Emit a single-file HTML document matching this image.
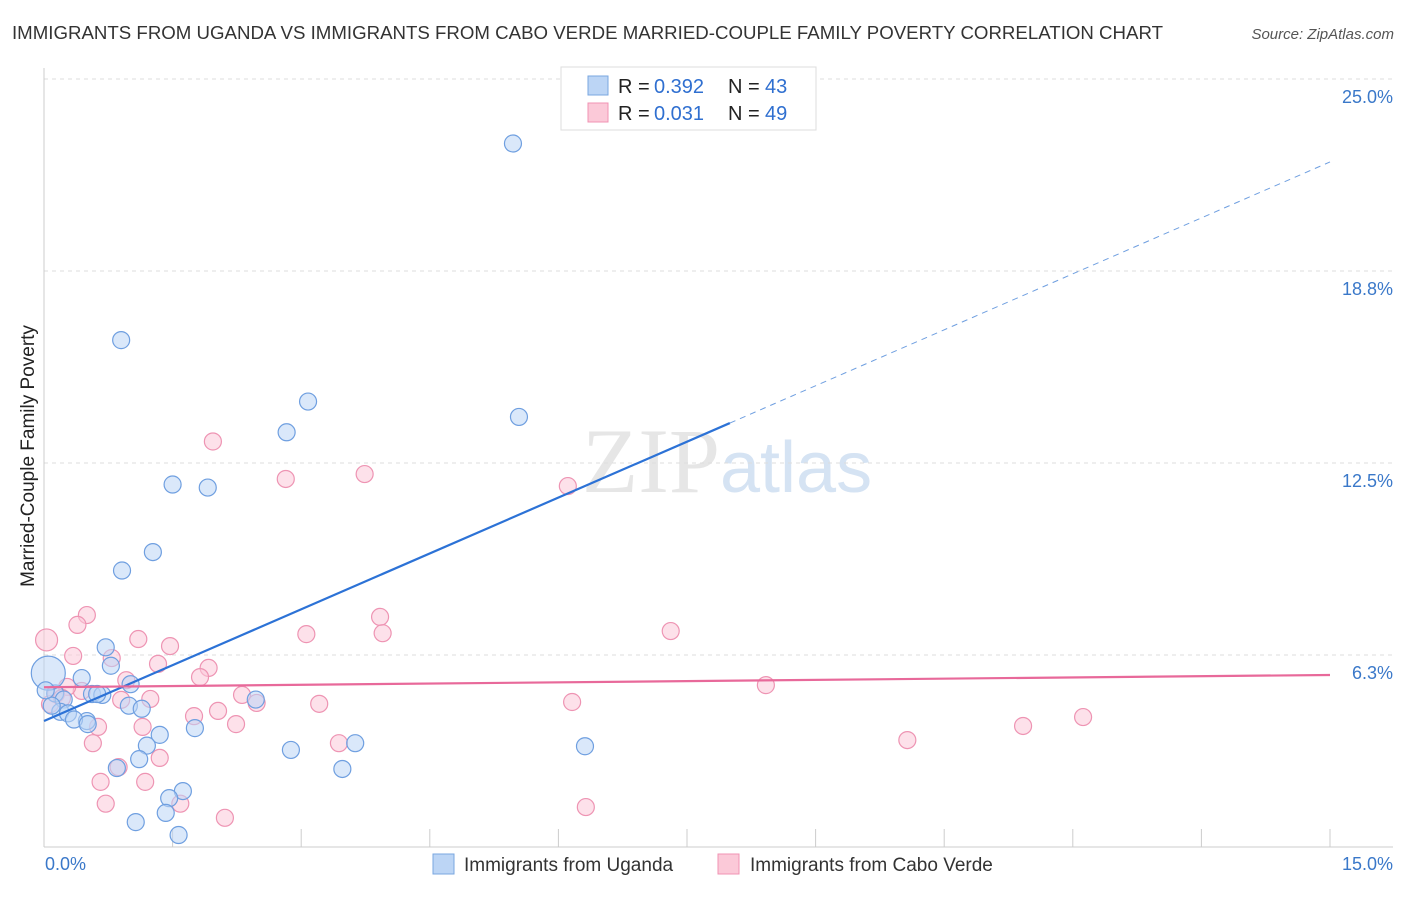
<!DOCTYPE html>
<html><head><meta charset="utf-8"><style>
body{margin:0;background:#fff;font-family:"Liberation Sans",sans-serif}
</style></head><body>
<svg width="1406" height="892" xmlns="http://www.w3.org/2000/svg">
<text x="12" y="39" font-size="18" fill="#333" textLength="1151" lengthAdjust="spacingAndGlyphs">IMMIGRANTS FROM UGANDA VS IMMIGRANTS FROM CABO VERDE MARRIED-COUPLE FAMILY POVERTY CORRELATION CHART</text>
<text x="1394" y="39" font-size="15" fill="#555" font-style="italic" text-anchor="end">Source: ZipAtlas.com</text>
<text x="720" y="492" font-size="92" fill="#e6e6e6" font-family="Liberation Serif" text-anchor="end">ZIP</text>
<text x="720" y="492" font-size="72" fill="#d5e3f3">atlas</text>
<g id="grid"></g><g id="axes"></g><g id="marks"></g>
<text x="34" y="456" font-size="19" fill="#222" transform="rotate(-90 34 456)" text-anchor="middle">Married-Couple Family Poverty</text>
<text x="45" y="870" font-size="18" fill="#3a78c9">0.0%</text>
<text x="1393" y="870" font-size="18" fill="#3a78c9" text-anchor="end">15.0%</text>
<g>
<rect x="561" y="67" width="255" height="63" fill="#fff" stroke="#ddd"/>
<rect x="588" y="76" width="20" height="19" fill="#bcd5f5" stroke="#7aa7e0"/>
<rect x="588" y="103" width="20" height="19" fill="#fbc9d8" stroke="#f093b3"/>
<text x="618" y="93" font-size="20" fill="#222">R =</text>
<text x="654" y="93" font-size="20" fill="#2f6fd0">0.392</text>
<text x="728" y="93" font-size="20" fill="#222">N =</text>
<text x="765" y="93" font-size="20" fill="#2f6fd0">43</text>
<text x="618" y="120" font-size="20" fill="#222">R =</text>
<text x="654" y="120" font-size="20" fill="#2f6fd0">0.031</text>
<text x="728" y="120" font-size="20" fill="#222">N =</text>
<text x="765" y="120" font-size="20" fill="#2f6fd0">49</text>
</g>
<g>
<rect x="433" y="854" width="21" height="20" fill="#bcd5f5" stroke="#7aa7e0"/>
<text x="464" y="871" font-size="19" fill="#333">Immigrants from Uganda</text>
<rect x="718" y="854" width="21" height="20" fill="#fbc9d8" stroke="#f093b3"/>
<text x="750" y="871" font-size="19" fill="#333">Immigrants from Cabo Verde</text>
</g>
</svg>
<script>
const yTicks=[6.25,12.5,18.75,25];
const yTickLabels=["6.3%","12.5%","18.8%","25.0%"];
const xTicks=[0,1.5,3,4.5,6,7.5,9,10.5,12,13.5,15];
const ugX=[5.47,0.90,3.08,2.83,5.54,1.50,1.91,1.27,0.91,0.72,0.78,0.44,1.01,0.13,0.23,0.56,0.68,0.62,0.99,1.14,0.19,0.28,0.50,0.35,1.76,1.35,1.20,2.88,3.63,6.31,1.11,0.85,3.48,1.62,1.46,1.42,1.07,1.57,2.47,0.05,0.09,0.51,0.02];
const ugY=[22.9,16.5,14.5,13.5,14.0,11.8,11.7,9.6,9.0,6.5,5.9,5.5,5.3,5.0,4.8,4.98,4.95,4.98,4.6,4.5,4.4,4.35,4.1,4.15,3.87,3.65,3.3,3.16,3.38,3.28,2.86,2.57,2.54,1.82,1.59,1.11,0.81,0.39,4.8,5.66,4.6,4.0,5.1];
const cvX=[0.03,0.50,0.39,1.97,2.82,3.74,6.11,3.92,3.95,3.06,7.31,1.10,1.47,0.34,0.79,1.33,1.92,1.82,0.96,0.44,0.27,0.14,2.31,1.24,2.48,3.21,6.16,8.42,2.03,0.90,1.75,2.24,1.15,0.63,12.12,11.42,10.07,0.57,3.44,1.35,0.87,0.66,1.18,0.72,1.59,6.32,2.11,0.07,0.21];
const cvY=[6.74,7.55,7.23,13.2,11.98,12.14,11.75,7.49,6.96,6.93,7.03,6.77,6.54,6.22,6.15,5.96,5.83,5.53,5.43,5.08,5.21,4.98,4.95,4.82,4.69,4.66,4.72,5.27,4.43,4.79,4.26,4.0,3.91,3.91,4.23,3.94,3.48,3.38,3.38,2.90,2.60,2.12,2.12,1.41,1.41,1.3,0.95,4.65,4.85];
const ugLine=[0,4.1,8.0,13.8,15,22.3];
const cvLine=[0,5.2,15,5.6];
const X=v=>44+v*(1286/15), Y=v=>847-v*30.72;
const NS="http://www.w3.org/2000/svg";
function mk(t,a,p){const e=document.createElementNS(NS,t);for(const k in a)e.setAttribute(k,a[k]);document.getElementById(p).appendChild(e);return e;}
yTicks.forEach((t,i)=>{
 const l=mk('line',{x1:44,x2:1393,y1:Y(t),y2:Y(t),stroke:'#ddd','stroke-dasharray':'4,4'},'grid');
 
 
 const tx=mk('text',{x:1393,y:Y(t)+24,'font-size':18,fill:'#3a78c9','text-anchor':'end'},'grid');
 tx.textContent=yTickLabels[i];
 
 
});
const ax=mk('line',{x1:44,x2:44,y1:68,y2:847,stroke:'#ccc'},'axes');


const bx=mk('line',{x1:44,x2:1393,y1:847,y2:847,stroke:'#ccc'},'axes');


xTicks.forEach(t=>{const l=mk('line',{x1:X(t),x2:X(t),y1:829,y2:847,stroke:'#ccc'},'axes');
 
 });
function pts(xs,ys,fill,stroke,name){xs.forEach((x,i)=>{const r=(name==='uganda-point'&&i===39)?17:(name==='cabo-verde-point'&&i===0?11:8.5);
 const c=mk('circle',{cx:X(x),cy:Y(ys[i]),r:r,fill:fill,'fill-opacity':0.55,stroke:stroke,'stroke-width':1.2},'marks');
 
 });}
pts(cvX,cvY,'#fbc9d8','#ee94b3','cabo-verde-point');
pts(ugX,ugY,'#bcd5f5','#6f9fe0','uganda-point');
let l1=mk('line',{x1:X(ugLine[0]),y1:Y(ugLine[1]),x2:X(ugLine[2]),y2:Y(ugLine[3]),stroke:'#2c72d6','stroke-width':2.2},'marks');


let l2=mk('line',{x1:X(ugLine[2]),y1:Y(ugLine[3]),x2:X(ugLine[4]),y2:Y(ugLine[5]),stroke:'#6f9fe0','stroke-width':1,'stroke-dasharray':'6,5'},'marks');


let l3=mk('line',{x1:X(cvLine[0]),y1:Y(cvLine[1]),x2:X(cvLine[2]),y2:Y(cvLine[3]),stroke:'#e8699a','stroke-width':2.2},'marks');


</script>
</body></html>
